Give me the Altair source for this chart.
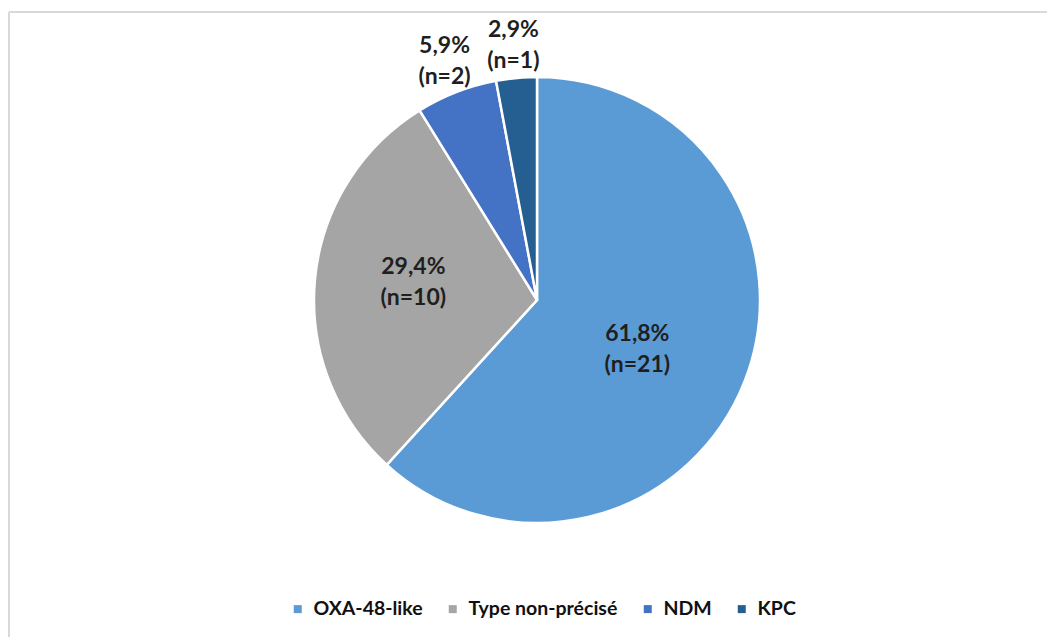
import altair as alt
import pandas as pd

# Carbapenemase types and number of isolates
types = ["OXA-48-like", "Type non-précisé", "NDM", "KPC"]
counts = [21, 10, 2, 1]
colors = ["#5B9BD5", "#A5A5A5", "#4472C4", "#255E91"]
outside = [False, False, True, True]

total = sum(counts)
labels = [
    f"{c / total * 100:.1f}".replace(".", ",") + f"%\n(n={c})" for c in counts
]

df = pd.DataFrame({
    "type": types,
    "n": counts,
    "order": list(range(len(types))),
    "label": labels,
    "outside": outside,
})

FONT = "Lato"
CX, CY, R = 537, 300, 223
LINE_H = 31

base = alt.Chart(df).encode(
    theta=alt.Theta("n:Q", stack=True),
    order=alt.Order("order:Q"),
)

pie = base.mark_arc(radius=R, stroke="white", strokeWidth=2.5).encode(
    x=alt.value(CX),
    y=alt.value(CY),
    color=alt.Color(
        "type:N",
        scale=alt.Scale(domain=types, range=colors),
        sort=types,
        legend=alt.Legend(
            title=None,
            orient="none",
            direction="horizontal",
            legendX=288,
            legendY=599,
            symbolType="square",
            symbolSize=64,
            symbolStrokeWidth=0,
            labelFont=FONT,
            labelFontSize=19.5,
            labelFontWeight="bold",
            labelColor="#111111",
            labelOffset=6,
            columnPadding=20,
        ),
    ),
)

text_style = dict(
    font=FONT,
    fontSize=23,
    fontWeight="bold",
    color="#1f1f1f",
    lineBreak="\n",
    lineHeight=LINE_H,
    align="center",
    baseline="middle",
    dy=-LINE_H / 2,
)

# every slice keeps its place in the stack; only the text is blanked
inner_labels = (
    base.mark_text(radius=118, thetaOffset=0.059, dx=-7, **text_style)
    .encode(x=alt.value(CX), y=alt.value(CY), text="txt:N")
    .transform_calculate(txt="datum.outside ? '' : datum.label")
)
outer_labels = (
    base.mark_text(radius=256, **text_style)
    .encode(x=alt.value(CX), y=alt.value(CY), text="txt:N")
    .transform_calculate(txt="datum.outside ? datum.label : ''")
)

# light frame around the chart area
frame_left = alt.Chart(df).mark_rule(color="#D9D9D9", strokeWidth=2).encode(
    x=alt.value(9), y=alt.value(12), y2=alt.value(640)
)
frame_top = alt.Chart(df).mark_rule(color="#D9D9D9", strokeWidth=2).encode(
    x=alt.value(9), x2=alt.value(1050), y=alt.value(12)
)

chart = (
    alt.layer(frame_left, frame_top, pie, inner_labels, outer_labels)
    .properties(
        width=1047,
        height=637,
        padding=0,
        autosize=alt.AutoSizeParams(type="none"),
        background="white",
    )
    .configure_view(stroke=None)
)

chart.save("out.html", embed_options={"renderer": "svg", "actions": False})
